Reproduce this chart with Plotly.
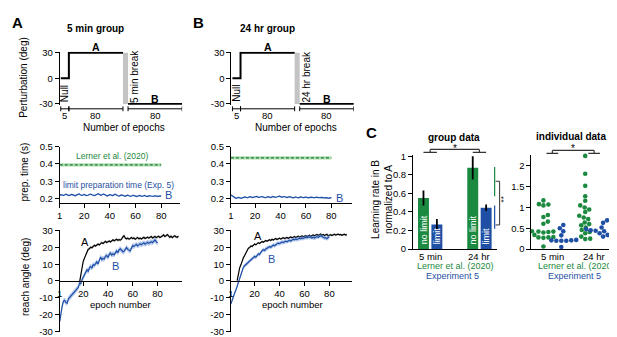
import plotly.graph_objects as go

W, H = 617, 337
def px(x): return x / W
def py(y): return 1 - y / H

FONT = "Liberation Sans, Arial, Helvetica, sans-serif"
GREEN = "#1b8a40"
BLUE = "#1f4fa5"
LGREEN = "rgba(120,200,120,0.6)"
LBLUE = "rgba(110,150,220,0.5)"
LGRAY = "rgba(0,0,0,0.22)"

# ---------------- data ----------------
phase_names = ["Null", "A", "B"]
phase_epochs = [5, 80, 80]
phase_pert = [0, 30, -30]
group_titles = ["5 min group", "24 hr group"]
break_labels = ["5 min break", "24 hr break"]

prep_lerner = [0.395, 0.435]
prep_lerner_sem = 0.009
prep_sem = 0.004
prep_limit_5min = [0.222,0.224,0.221,0.219,0.223,0.226,0.222,0.218,0.221,0.225,0.224,0.220,0.217,0.221,0.226,0.228,
                   0.223,0.219,0.222,0.225,0.221,0.218,0.220,0.224,0.227,0.223,0.220,0.218,0.222,0.226,0.229,0.224,
                   0.220,0.223,0.227,0.224,0.219,0.216,0.220,0.224,0.222,0.218,0.221,0.226,0.223,0.219,0.215,0.218,
                   0.222,0.220,0.216,0.214,0.218,0.221,0.217,0.214,0.216,0.220,0.218,0.215,0.213,0.216,0.219,0.217,
                   0.214,0.216,0.219,0.216,0.213,0.215,0.218,0.216,0.213,0.214,0.217,0.215,0.212,0.214,0.216,0.215]
prep_limit_24hr = [0.222,0.218,0.212,0.206,0.203,0.205,0.208,0.206,0.203,0.205,0.209,0.211,0.208,0.206,0.209,0.212,
                   0.210,0.207,0.209,0.212,0.214,0.211,0.208,0.210,0.213,0.211,0.208,0.206,0.209,0.212,0.210,0.207,
                   0.209,0.213,0.211,0.208,0.210,0.213,0.215,0.212,0.209,0.211,0.213,0.210,0.207,0.209,0.212,0.210,
                   0.207,0.205,0.208,0.210,0.207,0.205,0.208,0.211,0.209,0.206,0.208,0.210,0.207,0.205,0.207,0.209,
                   0.207,0.204,0.206,0.209,0.207,0.204,0.206,0.208,0.206,0.203,0.205,0.207,0.205,0.203,0.206,0.204]

reachB_5min = [-24.0,-18.5,-14.8,-12.0,-11.5,-12.8,-13.2,-10.6,-9.8,-9.2,-8.0,-7.4,-6.6,-5.9,-5.0,-3.8,
               -1.2,-1.6,0.8,2.6,3.4,5.2,6.6,5.8,7.9,8.6,7.8,9.7,9.2,10.8,11.4,10.2,
               12.6,14.2,12.8,13.4,13.1,14.8,15.2,14.0,15.8,16.6,15.4,16.2,15.6,17.1,17.9,16.8,
               18.6,19.1,18.0,17.4,17.7,19.2,19.9,18.8,18.2,17.9,19.6,21.0,20.6,21.5,21.8,20.9,
               21.4,22.2,21.6,22.1,22.7,21.9,22.6,23.0,22.4,22.9,23.3,22.8,23.9,24.4,23.6,22.5]
reachA_5min_first_epoch = 17
reachA_5min = [-0.8,3.5,9.5,11.8,13.6,15.2,17.4,18.9,19.2,20.1,19.8,20.6,21.2,20.8,21.6,22.0,
               21.4,22.5,22.8,22.3,23.1,23.6,22.9,23.4,23.8,23.2,24.1,24.5,23.9,24.4,24.8,24.2,
               24.6,24.3,24.9,26.2,26.9,25.6,25.1,25.4,24.9,25.3,25.8,25.2,25.6,24.9,25.4,25.9,
               25.1,25.5,25.0,25.6,26.0,25.3,25.7,26.1,25.5,25.9,26.4,25.6,26.0,26.5,25.8,26.3,
               26.6,25.9,26.2,26.8,27.4,26.5,26.9,27.6,26.8,25.9,26.7,25.8,26.4,26.9,26.2,26.0,26.7]
reachB_24hr = [-13.6,-11.0,-9.4,-7.2,-5.4,-3.0,-0.6,2.2,4.4,6.3,8.2,9.1,9.8,10.6,11.0,12.1,
               12.6,13.2,14.0,14.6,14.2,15.4,16.1,15.8,17.4,18.0,18.6,18.2,19.1,19.6,19.9,20.4,
               20.1,20.9,21.4,21.0,21.8,22.1,22.5,22.2,22.8,23.2,22.9,23.4,23.7,23.3,23.9,24.2,
               23.8,24.4,24.8,24.5,25.0,24.6,25.2,25.5,25.1,25.6,25.3,25.8,26.1,25.7,26.3,25.9,
               26.2,25.6,26.0,25.5,26.1,26.4,26.0,26.6,26.9,26.5,26.1,25.6,25.8,25.2,25.9,26.3]
reachA_24hr_first_epoch = 6
reachA_24hr = [0.2,4.6,7.8,9.6,12.0,13.8,15.2,16.9,18.4,19.5,19.9,20.8,20.5,21.6,22.0,21.5,
               22.4,22.8,22.3,23.1,23.5,23.0,23.8,24.1,23.6,24.2,24.6,24.1,24.8,24.4,25.0,25.3,
               24.7,25.2,25.5,24.9,25.4,25.8,25.2,25.6,25.9,25.4,25.8,26.2,25.7,26.1,26.4,25.9,
               26.3,26.6,26.1,26.5,26.8,26.3,26.7,27.0,26.5,26.9,27.2,26.6,27.0,27.4,26.9,27.3,
               27.7,27.1,27.5,27.9,27.2,27.6,27.0,27.4,27.8,26.9,27.3,27.6,27.1,27.5,27.8,27.3,
               27.6,27.9,27.4,27.7,27.2,27.5,27.8,27.3,27.6]
reach_sem_B = [1.6, 1.2]
reach_sem_A = [0.8, 0.6]

conditions = ["5 min", "24 hr"]
rate_nolimit = [0.55, 0.875]
rate_nolimit_err = [0.08, 0.125]
rate_limit = [0.265, 0.445]
rate_limit_err = [0.06, 0.035]

indiv_nolimit_5min = [1.17,1.08,1.07,1.05,0.82,0.77,0.66,0.61,0.43,0.42,0.42,0.41,0.40,0.34,0.29,0.28,0.28,0.27,0.06]
indiv_limit_5min = [0.58,0.50,0.43,0.33,0.22,0.21,0.21,0.20,0.20,0.20,0.05]
indiv_nolimit_24hr = [2.24,1.81,1.52,1.27,1.16,1.05,1.00,0.95,0.89,0.80,0.76,0.72,0.64,0.60,0.57,0.52,0.46,0.41,0.38,0.30,0.25,0.24]
indiv_limit_24hr = [0.69,0.63,0.52,0.48,0.46,0.45,0.44,0.43,0.40,0.38,0.34,0.30]

sig_group_green = [0.57, 0.885]
sig_group_blue = [0.22, 0.47]
sig_group_bracket = [0.26, 0.73]
sig_indiv_green = [0.42, 1.12]
sig_indiv_blue = [0.14, 0.49]
sig_indiv_bracket = [0.26, 1.0]

# ---------------- helpers ----------------
fig = go.Figure()
annotations = []
shapes = []
layout_axes = {}

def ann(text, x, y, size=10, color="black", bold=False, angle=0, xref="paper", yref="paper",
        xanchor="center", yanchor="middle", xshift=0, borderpad=1):
    if bold:
        text = "<b>" + text + "</b>"
    annotations.append(dict(text=text, x=x, y=y, xref=xref, yref=yref, showarrow=False,
                            textangle=angle, xanchor=xanchor, yanchor=yanchor, xshift=xshift,
                            borderpad=borderpad,
                            font=dict(family=FONT, size=size, color=color)))

def seg(x0, y0, x1, y1, xref="paper", yref="paper", color="black", width=1):
    shapes.append(dict(type="line", x0=x0, y0=y0, x1=x1, y1=y1, xref=xref, yref=yref,
                       line=dict(color=color, width=width), layer="above"))

def axis(x0, x1, rng, **kw):
    d = dict(domain=[px(x0), px(x1)], range=rng, showgrid=False, zeroline=False,
             showline=True, linecolor="black", linewidth=1, ticks="outside", ticklen=4,
             tickwidth=1, tickcolor="black", fixedrange=True,
             tickfont=dict(family=FONT, size=9.5, color="black"))
    d.update(kw)
    return d

def yaxis(top, bottom, rng, **kw):
    d = axis(0, 1, rng, **kw)
    d["domain"] = [py(bottom), py(top)]
    return d

def band(xs, lo, hi, color, xa, ya):
    fig.add_trace(go.Scatter(x=list(xs) + list(xs)[::-1], y=list(hi) + list(lo)[::-1],
                             fill="toself", fillcolor=color, line=dict(width=0),
                             mode="lines", hoverinfo="skip", xaxis=xa, yaxis=ya))

def hyph(v):
    return "%g" % v

# ---------------- top: perturbation schematic ----------------
disp = [max(n, 12) for n in phase_epochs]
brk = 7.5
starts = [0, disp[0], disp[0] + disp[1] + brk]
ends = [s + w for s, w in zip(starts, disp)]
total = ends[-1]
scale_top = 122.0 / total  # px per schematic unit
axis_x_top = [49, 221.5]
pert_ticks = [-30, 0, 30]
for i in range(2):
    xa, ya = ("x" if i == 0 else "x2"), ("y" if i == 0 else "y2")
    xk, yk = ("xaxis" if i == 0 else "xaxis2"), ("yaxis" if i == 0 else "yaxis2")
    x0 = axis_x_top[i]
    layout_axes[xk] = axis(x0, x0 + 123, [-1 / scale_top, 122 / scale_top], visible=False, anchor=ya)
    layout_axes[yk] = yaxis(39.1, 93.9, [-31, 31], tickvals=pert_ticks,
                            ticktext=[hyph(v) for v in pert_ticks], anchor=xa)
    xs = [starts[0], ends[0], starts[1], ends[1], None, starts[2], ends[2]]
    ys = [phase_pert[0], phase_pert[0], phase_pert[1], phase_pert[1], None, phase_pert[2], phase_pert[2]]
    fig.add_trace(go.Scatter(x=xs, y=ys, mode="lines", line=dict(color="black", width=2),
                             xaxis=xa, yaxis=ya, hoverinfo="skip"))
    shapes.append(dict(type="rect", x0=ends[1], x1=starts[2], y0=-30, y1=30, xref=xa, yref=ya,
                       fillcolor="#c4c4c4", line=dict(width=0), layer="below"))
    for k in range(3):
        seg(starts[k], py(98), ends[k], py(98), xref=xa)
        seg(starts[k], py(95.5), starts[k], py(100.5), xref=xa)
        seg(ends[k], py(95.5), ends[k], py(100.5), xref=xa)
        ann(str(phase_epochs[k]), (starts[k] + ends[k]) / 2, py(105), xref=xa, size=9.5)
    ann(phase_names[0], (starts[0] + ends[0]) / 2, py(82), angle=-90, xref=xa)
    ann(phase_names[1], (starts[1] + ends[1]) / 2, py(34), bold=True, xref=xa, size=10.5)
    ann(phase_names[2], (starts[2] + ends[2]) / 2, py(88), bold=True, xref=xa, size=10.5)
    ann(break_labels[i], starts[2], py(64.5), angle=-90, xref=xa, xshift=6.5)
    ann("Number of epochs", px(x0 + 64.5), py(117.5))
    ann(group_titles[i], px(x0 + 36), py(15), bold=True, size=10)

# ---------------- middle: prep time ----------------
mid_x = [(49, 170, 94.8), (221, 343, 96.5)]
prep_series = [prep_limit_5min, prep_limit_24hr]
for i in range(2):
    n = 3 + i
    xa, ya = "x%d" % n, "y%d" % n
    x0, x1, xmax = mid_x[i]
    layout_axes["xaxis%d" % n] = axis(x0, x1, [1, xmax], tickvals=[1, 20, 40, 60, 80], anchor=ya)
    layout_axes["yaxis%d" % n] = yaxis(137, 195, [0.1778, 0.5], tickvals=[0.2, 0.3, 0.4, 0.5],
                                       ticktext=["0.2", "0.3", "0.4", "0.5"], anchor=xa)
    ep = list(range(1, phase_epochs[2] + 1))
    v = prep_lerner[i]
    band([ep[0], ep[-1]], [v - prep_lerner_sem] * 2, [v + prep_lerner_sem] * 2, LGREEN, xa, ya)
    fig.add_trace(go.Scatter(x=[ep[0], ep[-1]], y=[v, v], mode="lines",
                             line=dict(color="#1f7a3a", width=1.3, dash="3px,2px"), xaxis=xa, yaxis=ya))
    s = prep_series[i]
    xs = list(range(1, len(s) + 1))
    band(xs, [a - prep_sem for a in s], [a + prep_sem for a in s], LBLUE, xa, ya)
    fig.add_trace(go.Scatter(x=xs, y=s, mode="lines", line=dict(color=BLUE, width=1.2),
                             xaxis=xa, yaxis=ya))
ann("Lerner et al. (2020)", px(101), py(147), size=8.5, color=GREEN)
ann("limit preparation time (Exp. 5)", px(108), py(177), size=8.5, color=BLUE)
ann("B", px(158), py(187.5), size=11, color=BLUE)
ann("B", px(330), py(190), size=11, color=BLUE)

# ---------------- bottom: reach angle ----------------
bot_x = [(49, 172, 100), (221, 343, 98.4)]
reachB = [reachB_5min, reachB_24hr]
reachA = [reachA_5min, reachA_24hr]
reachA_first = [reachA_5min_first_epoch, reachA_24hr_first_epoch]
reach_ticks = [-30, -20, -10, 0, 10, 20, 30]
ytop, ybot, yr = 223, 329, [-30.5, 30.5]
zero_pos = py(ybot - (0 - yr[0]) / (yr[1] - yr[0]) * (ybot - ytop))
for i in range(2):
    n = 5 + i
    xa, ya = "x%d" % n, "y%d" % n
    x0, x1, xmax = bot_x[i]
    layout_axes["xaxis%d" % n] = axis(x0, x1, [1, xmax], tickvals=[1, 20, 40, 60, 80],
                                      anchor="free", position=zero_pos)
    layout_axes["yaxis%d" % n] = yaxis(ytop, ybot, yr, tickvals=reach_ticks,
                                       ticktext=[hyph(v) for v in reach_ticks], anchor=xa)
    a = reachA[i]
    xsA = list(range(reachA_first[i], reachA_first[i] + len(a)))
    band(xsA, [v - reach_sem_A[i] for v in a], [v + reach_sem_A[i] for v in a], LGRAY, xa, ya)
    fig.add_trace(go.Scatter(x=xsA, y=a, mode="lines", line=dict(color="black", width=1.2),
                             xaxis=xa, yaxis=ya))
    b = reachB[i]
    xsB = list(range(1, len(b) + 1))
    band(xsB, [v - reach_sem_B[i] for v in b], [v + reach_sem_B[i] for v in b], LBLUE, xa, ya)
    fig.add_trace(go.Scatter(x=xsB, y=b, mode="lines", line=dict(color=BLUE, width=1.2),
                             xaxis=xa, yaxis=ya))
ann("A", px(74), py(236), size=11)
ann("B", px(105), py(260), size=11, color=BLUE)
ann("A", px(248), py(230), size=11)
ann("B", px(262), py(253), size=11, color=BLUE)
ann("epoch number", px(110), py(300.5), size=9.5)
ann("epoch number", px(283), py(300), size=9.5)

# left column y titles & panel letters
ann("Perturbation (deg)", px(13), py(65), angle=-90)
ann("prep. time (s)", px(14), py(163), angle=-90)
ann("reach angle (deg)", px(14), py(272), angle=-90)
ann("A", px(7), py(9), bold=True, size=15)
ann("B", px(188), py(9), bold=True, size=15)
ann("C", px(362), py(122), bold=True, size=15)

# ---------------- C: group data ----------------
grp_pos = list(range(len(conditions)))
off, bw = 0.136, 0.222
layout_axes["xaxis7"] = axis(404, 488, [-0.348, 1.349], tickvals=grp_pos, showticklabels=False,
                             ticks="", anchor="y7")
gt = [0, 0.2, 0.4, 0.6, 0.8, 1]
layout_axes["yaxis7"] = yaxis(146, 243, [0, 1.0104], tickvals=gt, ticktext=["%g" % v for v in gt],
                              anchor="x7")
fig.add_trace(go.Bar(x=[g - off for g in grp_pos], y=rate_nolimit, width=bw, marker=dict(color=GREEN, line=dict(width=0)),
                     error_y=dict(type="data", array=rate_nolimit_err, thickness=1.8, width=0, color="black"),
                     xaxis="x7", yaxis="y7"))
fig.add_trace(go.Bar(x=[g + off for g in grp_pos], y=rate_limit, width=bw, marker=dict(color=BLUE, line=dict(width=0)),
                     error_y=dict(type="data", array=rate_limit_err, thickness=1.8, width=0, color="black"),
                     xaxis="x7", yaxis="y7"))
for g in grp_pos:
    ann("no limit", g - off, 0.03, size=9, color="white", angle=-90, xref="x7", yref="y7", yanchor="bottom")
    ann("limit", g + off, 0.03, size=9, color="white", angle=-90, xref="x7", yref="y7", yanchor="bottom")
    ann(conditions[g], g, py(250.5), xref="x7", size=9.5)
seg(grp_pos[0], py(140), grp_pos[1], py(140), xref="x7", color="#333", width=1.2)
for g in grp_pos:
    seg(g, py(140), g, py(143), xref="x7", color="#333", width=1.2)
    seg(g - off, py(143), g + off, py(143), xref="x7", color="#333", width=1.2)
ann("*", (grp_pos[0] + grp_pos[1]) / 2, py(139), xref="x7", size=10)
ann("group data", px(445), py(128), bold=True, size=10)

# ---------------- C: individual data ----------------
layout_axes["xaxis8"] = axis(523, 605, [-0.5, 1.452], tickvals=grp_pos, showticklabels=False,
                             ticks="", anchor="y8")
it = [0, 0.5, 1, 1.5, 2]
layout_axes["yaxis8"] = yaxis(146, 243, [0, 2.256], tickvals=it, ticktext=["%g" % v for v in it],
                              anchor="x8")

def swarm(values, center, xscale, yscale, d):
    placed = []
    out = [0.0] * len(values)
    order = sorted(range(len(values)), key=lambda k: values[k])
    for k in order:
        yv = values[k] * yscale
        step = 0
        chosen = None
        while chosen is None:
            cands = [0.0] if step == 0 else [step * 0.5, -step * 0.5]
            for c in cands:
                if all((c - a) ** 2 + (yv - b) ** 2 >= d * d for a, b in placed):
                    chosen = c
                    break
            step += 1
        placed.append((chosen, yv))
        out[k] = center + chosen / xscale
    return out

ioff = 0.214
indiv = [(indiv_nolimit_5min, 0 - ioff, GREEN), (indiv_limit_5min, 0 + ioff, BLUE),
         (indiv_nolimit_24hr, 1 - ioff, GREEN), (indiv_limit_24hr, 1 + ioff, BLUE)]
for vals, c, col in indiv:
    xs = swarm(vals, c, 42.0, 43.0, 4.6)
    fig.add_trace(go.Scatter(x=xs, y=vals, mode="markers", marker=dict(size=4.6, color=col, line=dict(width=0)),
                             cliponaxis=False, xaxis="x8", yaxis="y8"))
for g in grp_pos:
    ann(conditions[g], g, py(250.5), xref="x8", size=9.5)
seg(grp_pos[0], py(141), grp_pos[1], py(141), xref="x8", color="#333", width=1.2)
for g in grp_pos:
    seg(g, py(141), g, py(144), xref="x8", color="#333", width=1.2)
    seg(g - 0.14, py(144), g + 0.14, py(144), xref="x8", color="#333", width=1.2)
ann("*", (grp_pos[0] + grp_pos[1]) / 2, py(139), xref="x8", size=10)
ann("individual data", px(563), py(127), bold=True, size=10)

def sig(xline, xbr, xstar, ya, green, blue, br, ystar, size=8, xanchor="center"):
    seg(px(xline), green[0], px(xline), green[1], yref=ya, color=GREEN, width=1.2)
    seg(px(xline), blue[0], px(xline), blue[1], yref=ya, color=BLUE, width=1.2)
    seg(px(xbr), br[0], px(xbr), br[1], yref=ya, color="#333", width=1)
    seg(px(xline + 1), br[0], px(xbr), br[0], yref=ya, color="#333", width=1)
    seg(px(xline + 1), br[1], px(xbr), br[1], yref=ya, color="#333", width=1)
    ann("**", px(xstar), ystar, yref=ya, angle=-90, size=size, borderpad=0, xanchor=xanchor)

sig(486, 491, 495, "y7", sig_group_green, sig_group_blue, sig_group_bracket, 0.53)
sig(603.5, 607.5, 615, "y8", sig_indiv_green, sig_indiv_blue, sig_indiv_bracket, 0.63, size=7, xanchor="right")

for cx, cy in [(447, 444), (568, 566)]:
    ann("Lerner et al. (2020)", px(cx), py(261), size=9, color=GREEN)
    ann("Experiment 5", px(cy), py(270.5), size=9, color=BLUE)
ann("Learning rate in B<br>normalized to A", px(373), py(192), angle=-90, size=10)

fig.update_layout(width=W, height=H, margin=dict(l=0, r=0, t=0, b=0),
                  paper_bgcolor="white", plot_bgcolor="rgba(0,0,0,0)",
                  showlegend=False, barmode="overlay",
                  font=dict(family=FONT, size=10, color="black"),
                  annotations=annotations, shapes=shapes, **layout_axes)
fig.write_html("out.html")
